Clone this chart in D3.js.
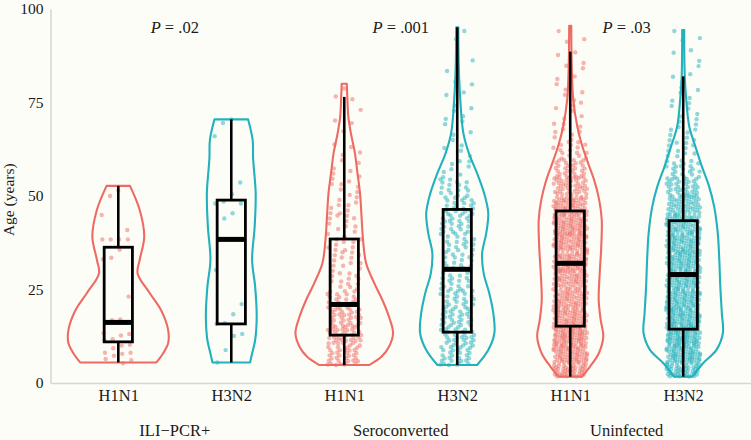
<!DOCTYPE html>
<html>
<head>
<meta charset="utf-8">
<script src="https://cdn.jsdelivr.net/npm/d3@7"></script>
<style>
  html, body { margin: 0; padding: 0; background: #fdfdf8; }
  svg { display: block; }
</style>
</head>
<body>
<div id="chart"></div>
<script>
// ---------------- DATA ----------------
const groups = ["ILI\u2212PCR+", "Seroconverted", "Uninfected"];
const subtypes = ["H1N1", "H3N2"];
const pLabels = [".02", ".001", ".03"];
const yTicks = [0, 25, 50, 75, 100];

// violin profiles: [age, relative half-width (1 = widest possible)]
const violinILI_H1N1 = [[5.5,0.75],[7.9,0.88],[10.6,0.98],[14.2,0.98],[19.5,0.84],[24.0,0.62],[29.3,0.38],[32.9,0.42],[39.1,0.51],[46.3,0.42],[52.7,0.23]];
const violinILI_H3N2 = [[5.5,0.37],[7.9,0.41],[11.5,0.47],[17.7,0.50],[25.7,0.47],[32.9,0.41],[41.8,0.46],[50.7,0.48],[60.0,0.43],[65.0,0.42],[70.5,0.33]];
const violinSero_H1N1 = [[4.8,0.49],[7.0,0.73],[9.7,0.88],[13.3,0.96],[17.7,0.88],[22.2,0.75],[26.7,0.59],[32.0,0.43],[38.2,0.37],[44.5,0.34],[50.7,0.31],[56.1,0.26],[61.4,0.21],[66.8,0.13],[71.2,0.08],[76.6,0.06],[80.0,0.05]];
const violinSero_H3N2 = [[4.8,0.39],[8.8,0.61],[13.3,0.73],[18.6,0.71],[24.0,0.63],[29.3,0.52],[34.7,0.49],[40.0,0.57],[45.4,0.61],[50.7,0.53],[56.1,0.39],[61.4,0.23],[66.8,0.12],[75.7,0.06],[84.6,0.03],[95.1,0.02]];
const violinUninf_H1N1 = [[1.7,0.23],[4.4,0.39],[7.9,0.56],[12.4,0.65],[16.8,0.60],[22.2,0.56],[29.3,0.58],[36.4,0.61],[43.6,0.62],[48.9,0.57],[54.3,0.47],[59.6,0.33],[64.1,0.22],[68.5,0.14],[75.7,0.06],[84.6,0.03],[95.5,0.02]];
const violinUninf_H3N2 = [[1.7,0.18],[5.3,0.39],[8.8,0.65],[13.3,0.78],[18.6,0.76],[25.7,0.73],[32.9,0.71],[40.0,0.68],[47.1,0.61],[52.5,0.51],[57.8,0.37],[63.2,0.24],[68.5,0.12],[75.7,0.06],[82.0,0.03],[94.4,0.02]];

// box stats: [lower whisker, Q1, median, Q3, upper whisker]
const boxILI_H1N1 = [5.5, 11.0, 16.2, 36.3, 52.7];
const boxILI_H3N2 = [5.5, 15.8, 38.4, 48.9, 70.5];
const boxSero_H1N1 = [4.8, 12.8, 21.0, 38.5, 76.5];
const boxSero_H3N2 = [4.8, 13.6, 30.4, 46.4, 95.1];
const boxUninf_H1N1 = [1.7, 15.2, 32.0, 46.0, 88.6];
const boxUninf_H3N2 = [1.7, 14.4, 29.0, 43.4, 82.0];

// individual ages (small groups)
const pointsILI_H1N1 = [51.5, 50.0, 44.9, 40.9, 38.4, 38.4, 38.4, 38.4, 35.6, 33.5, 33.1, 23.1, 17.0, 16.8, 13.3, 13.1, 12.7, 11.7, 11.5, 10.2, 10.0, 9.3, 8.1, 8.1, 7.8, 7.3, 6.4, 6.1, 5.3];
const pointsILI_H3N2 = [70.5, 69.5, 66.0, 53.6, 50.5, 48.5, 48.0, 48.0, 45.4, 44.0, 30.2, 21.1, 18.4, 16.0, 15.8, 13.1, 12.6, 8.8, 5.5];

// counts of individuals per 5-year age bin (large groups)
const ageBins = [0,5,10,15,20,25,30,35,40,45,50,55,60,65,70,75,80,85,90,95];
const countsSero_H1N1  = [3,30,38,32,22,14,12,11,10,9,8,6,4,2,2,3,0,0,0,0];
const countsSero_H3N2  = [3,25,30,27,22,18,17,18,22,22,16,8,5,4,5,3,2,1,2,0];
const countsUninf_H1N1 = [40,65,70,62,55,55,58,60,62,58,42,28,16,9,6,5,4,3,3,0];
const countsUninf_H3N2 = [40,70,75,70,66,65,64,62,58,48,35,22,13,8,6,5,4,3,3,0];

// ---------------- BUILD ----------------
const W = 751, H = 440;
const FONT = '"Liberation Serif", "Times New Roman", serif';
const TXT = "#1a1a1a";
const colors = {H1N1: "#ee6b63", H3N2: "#22b1bd"};

const series = [
  {g:0, s:"H1N1", violin: violinILI_H1N1, box: boxILI_H1N1, ages: pointsILI_H1N1},
  {g:0, s:"H3N2", violin: violinILI_H3N2, box: boxILI_H3N2, ages: pointsILI_H3N2},
  {g:1, s:"H1N1", violin: violinSero_H1N1, box: boxSero_H1N1, counts: countsSero_H1N1},
  {g:1, s:"H3N2", violin: violinSero_H3N2, box: boxSero_H3N2, counts: countsSero_H3N2},
  {g:2, s:"H1N1", violin: violinUninf_H1N1, box: boxUninf_H1N1, counts: countsUninf_H1N1},
  {g:2, s:"H3N2", violin: violinUninf_H3N2, box: boxUninf_H3N2, counts: countsUninf_H3N2}
];
series.forEach((d, i) => d.pos = i + 1);

const x = d3.scaleLinear().domain([0.4, 6.6]).range([50.5, 751]);
const y = d3.scaleLinear().domain([0, 100]).range([383, 9]);
const step = x(2) - x(1);
const wScale = d3.scaleLinear().domain([0, 1]).range([0, 0.45 * step]);
const boxHalf = 0.125 * step;
const jitterHalf = 0.15 * step;

const svg = d3.select("#chart").append("svg").attr("width", W).attr("height", H);
svg.append("rect").attr("width", W).attr("height", H).attr("fill", "#fdfdf8");

function styleText(sel, size) {
  sel.style("font-family", FONT).style("font-size", size + "px").style("fill", TXT);
}

// axes
const yAxis = svg.append("g").attr("transform", `translate(${x(0.4)},0)`)
  .call(d3.axisLeft(y).tickValues(yTicks).tickSize(0).tickPadding(7));
yAxis.select(".domain").attr("stroke", "#d6d6d2").attr("stroke-width", 1.6);
styleText(yAxis.selectAll("text"), 15.5);

const xAxis = svg.append("g").attr("transform", `translate(0,${y(0)})`)
  .call(d3.axisBottom(x).tickValues(series.map(d => d.pos)).tickFormat((v) => series[v-1].s).tickSize(0).tickPadding(6));
xAxis.select(".domain").attr("stroke", "#d6d6d2").attr("stroke-width", 1.6);
styleText(xAxis.selectAll("text"), 16.5);

// group labels and P values
groups.forEach((g, i) => {
  styleText(svg.append("text").attr("x", x(2 * i + 1.5)).attr("y", 436)
    .attr("text-anchor", "middle").text(g), 16.5);
  const t = svg.append("text").attr("x", x(2 * i + 1.5)).attr("y", 33)
    .attr("text-anchor", "middle");
  styleText(t, 16.5);
  t.append("tspan").style("font-style", "italic").text("P");
  t.append("tspan").text(" = " + pLabels[i]);
});

// y title
styleText(svg.append("text").attr("transform", `translate(14,${y(49)}) rotate(-90)`)
  .attr("text-anchor", "middle").text("Age (years)"), 15.5);

const plot = svg.append("g");

// violins
const area = d3.area().curve(d3.curveCatmullRom.alpha(0.5));
series.forEach(d => {
  const cx = x(d.pos);
  area.y(p => y(p[0])).x0(p => cx - wScale(p[1])).x1(p => cx + wScale(p[1]));
  plot.append("path").attr("d", area(d.violin))
    .attr("fill", "none").attr("stroke", colors[d.s]).attr("stroke-width", 2.1)
    .attr("stroke-linejoin", "round");
});

// jittered points (deterministic low-discrepancy jitter)
const a1 = 0.7548776662466927, a2 = 0.5698402909980532;
series.forEach(d => {
  const cx = x(d.pos);
  const pts = [];
  let k = 0;
  if (d.ages) {
    d.ages.forEach(a => { pts.push([a, ((0.5 + a1 * k) % 1)]); k++; });
  } else {
    const lo = d.box[0], hi = d3.max(d.violin, p => p[0]);
    d.counts.forEach((n, bi) => {
      const b0 = Math.max(ageBins[bi], lo), b1 = Math.min(ageBins[bi] + 5, hi);
      for (let j = 0; j < n; j++) {
        const u = (0.5 + a1 * k) % 1, v = (0.5 + a2 * k) % 1;
        pts.push([b0 + v * (b1 - b0), u]);
        k++;
      }
    });
  }
  plot.append("g").selectAll("circle").data(pts).join("circle")
    .attr("cx", p => cx + (p[1] * 2 - 1) * jitterHalf)
    .attr("cy", p => y(p[0]))
    .attr("r", 2.2)
    .attr("fill", colors[d.s]).attr("fill-opacity", 0.5);
});

// boxplots
series.forEach(d => {
  const cx = x(d.pos), b = d.box;
  const g = plot.append("g").attr("stroke", "#000");
  g.append("line").attr("x1", cx).attr("x2", cx).attr("y1", y(b[3])).attr("y2", y(b[4])).attr("stroke-width", 2.6);
  g.append("line").attr("x1", cx).attr("x2", cx).attr("y1", y(b[1])).attr("y2", y(b[0])).attr("stroke-width", 2.6);
  g.append("rect").attr("x", cx - boxHalf).attr("width", 2 * boxHalf)
    .attr("y", y(b[3])).attr("height", y(b[1]) - y(b[3]))
    .attr("fill", "none").attr("stroke-width", 2.8);
  g.append("line").attr("x1", cx - boxHalf).attr("x2", cx + boxHalf)
    .attr("y1", y(b[2])).attr("y2", y(b[2])).attr("stroke-width", 5);
});
</script>
</body>
</html>
